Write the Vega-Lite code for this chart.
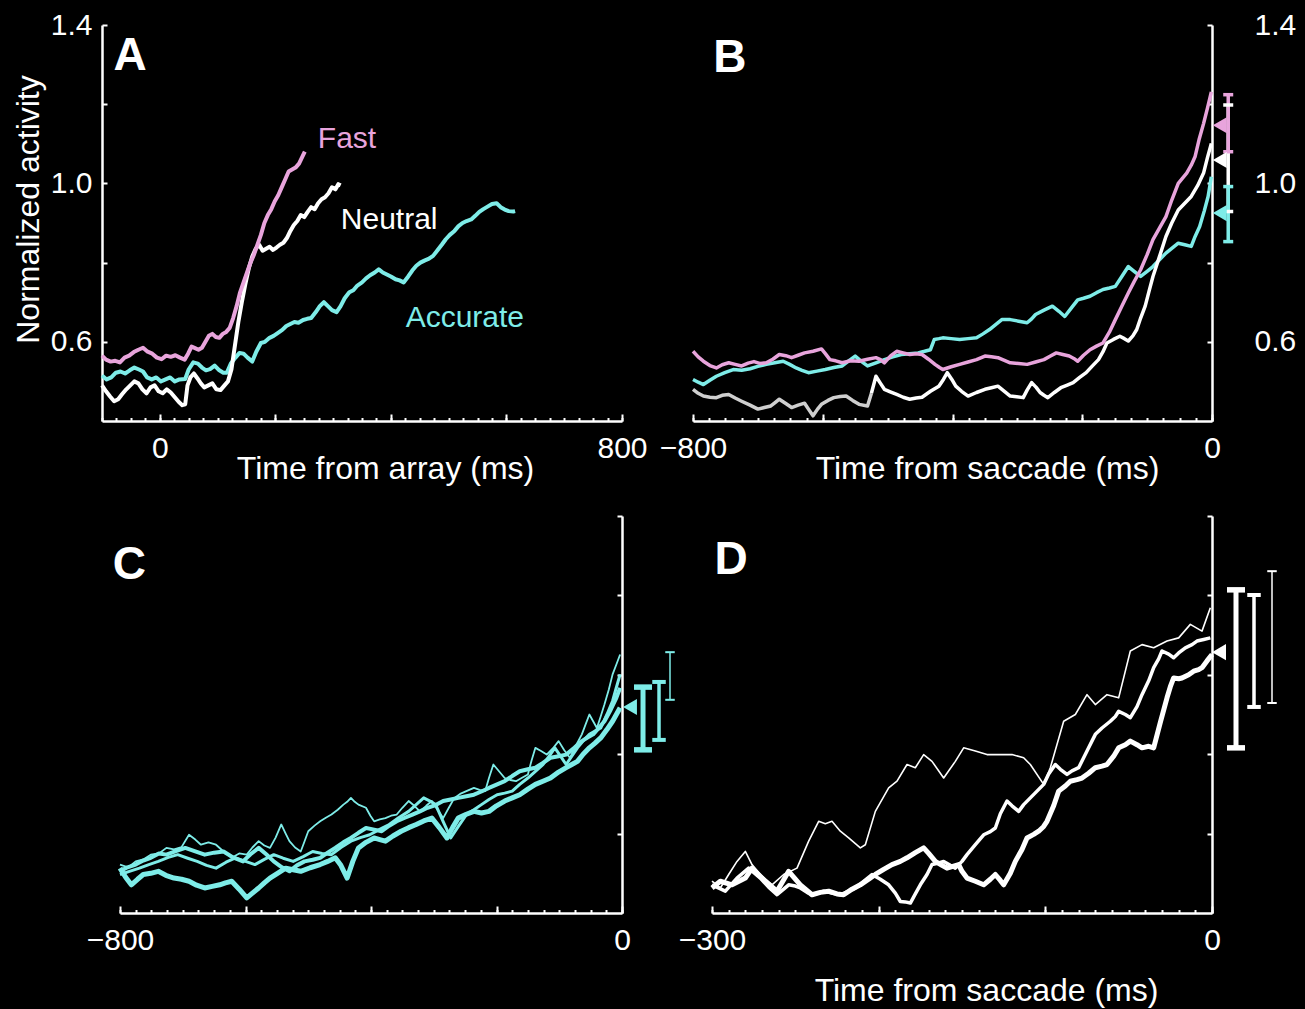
{
"$schema": "https://vega.github.io/schema/vega-lite/v6.json",
"background": "#000000",
"padding": {"left": 12, "top": 10, "right": 12, "bottom": 10},
"config": {
 "font": "Liberation Sans",
 "view": {"stroke": null},
 "tick": {"opacity": 1},
 "axis": {"domainColor": "#ffffff", "domainWidth": 2.5, "tickColor": "#ffffff", "tickWidth": 2, "labelColor": "#ffffff", "titleColor": "#ffffff", "labelFontSize": 30, "titleFontSize": 32, "titleFontWeight": "normal", "labelFont": "Liberation Sans", "titleFont": "Liberation Sans", "grid": false}
},
"datasets": {
 "A_fast": [{"t":-100,"v":0.565},{"t":-93,"v":0.555},{"t":-85,"v":0.55},{"t":-77,"v":0.552},{"t":-69,"v":0.548},{"t":-61,"v":0.56},{"t":-53,"v":0.565},{"t":-45,"v":0.574},{"t":-37,"v":0.58},{"t":-29,"v":0.585},{"t":-21,"v":0.575},{"t":-13,"v":0.57},{"t":-5,"v":0.56},{"t":3,"v":0.556},{"t":11,"v":0.565},{"t":19,"v":0.562},{"t":27,"v":0.566},{"t":35,"v":0.56},{"t":43,"v":0.555},{"t":49,"v":0.57},{"t":55,"v":0.588},{"t":61,"v":0.584},{"t":67,"v":0.58},{"t":73,"v":0.585},{"t":79,"v":0.6},{"t":85,"v":0.615},{"t":91,"v":0.62},{"t":97,"v":0.612},{"t":103,"v":0.61},{"t":109,"v":0.62},{"t":115,"v":0.625},{"t":121,"v":0.635},{"t":127,"v":0.66},{"t":133,"v":0.69},{"t":139,"v":0.725},{"t":145,"v":0.75},{"t":151,"v":0.775},{"t":157,"v":0.8},{"t":163,"v":0.82},{"t":169,"v":0.845},{"t":175,"v":0.87},{"t":181,"v":0.9},{"t":187,"v":0.92},{"t":193,"v":0.935},{"t":199,"v":0.955},{"t":205,"v":0.97},{"t":211,"v":0.99},{"t":217,"v":1.01},{"t":223,"v":1.03},{"t":229,"v":1.035},{"t":235,"v":1.04},{"t":241,"v":1.05},{"t":246,"v":1.065},{"t":251,"v":1.08}],
 "A_neutral": [{"t":-100,"v":0.49},{"t":-93,"v":0.475},{"t":-86,"v":0.462},{"t":-79,"v":0.45},{"t":-72,"v":0.455},{"t":-65,"v":0.468},{"t":-58,"v":0.48},{"t":-51,"v":0.49},{"t":-44,"v":0.5},{"t":-37,"v":0.495},{"t":-30,"v":0.48},{"t":-23,"v":0.47},{"t":-16,"v":0.485},{"t":-9,"v":0.49},{"t":-2,"v":0.475},{"t":5,"v":0.47},{"t":12,"v":0.48},{"t":19,"v":0.472},{"t":26,"v":0.46},{"t":33,"v":0.448},{"t":39,"v":0.44},{"t":44,"v":0.442},{"t":48,"v":0.49},{"t":53,"v":0.51},{"t":59,"v":0.52},{"t":65,"v":0.508},{"t":71,"v":0.495},{"t":77,"v":0.485},{"t":84,"v":0.49},{"t":91,"v":0.495},{"t":98,"v":0.48},{"t":105,"v":0.478},{"t":112,"v":0.49},{"t":118,"v":0.5},{"t":124,"v":0.53},{"t":130,"v":0.59},{"t":136,"v":0.65},{"t":142,"v":0.7},{"t":148,"v":0.745},{"t":154,"v":0.785},{"t":160,"v":0.815},{"t":166,"v":0.835},{"t":172,"v":0.845},{"t":178,"v":0.83},{"t":184,"v":0.835},{"t":190,"v":0.84},{"t":196,"v":0.832},{"t":202,"v":0.838},{"t":208,"v":0.845},{"t":214,"v":0.85},{"t":220,"v":0.862},{"t":226,"v":0.88},{"t":232,"v":0.895},{"t":238,"v":0.905},{"t":244,"v":0.92},{"t":250,"v":0.915},{"t":256,"v":0.928},{"t":262,"v":0.94},{"t":268,"v":0.935},{"t":274,"v":0.95},{"t":280,"v":0.96},{"t":286,"v":0.965},{"t":292,"v":0.975},{"t":298,"v":0.99},{"t":304,"v":0.985},{"t":309,"v":0.998},{"t":313,"v":0.995}],
 "A_accurate": [{"t":-100,"v":0.515},{"t":-92,"v":0.505},{"t":-84,"v":0.51},{"t":-76,"v":0.522},{"t":-68,"v":0.525},{"t":-60,"v":0.52},{"t":-52,"v":0.528},{"t":-44,"v":0.535},{"t":-36,"v":0.53},{"t":-29,"v":0.525},{"t":-22,"v":0.51},{"t":-14,"v":0.505},{"t":-6,"v":0.51},{"t":2,"v":0.5},{"t":10,"v":0.505},{"t":18,"v":0.51},{"t":26,"v":0.5},{"t":34,"v":0.505},{"t":44,"v":0.506},{"t":50,"v":0.53},{"t":58,"v":0.548},{"t":66,"v":0.545},{"t":73,"v":0.535},{"t":80,"v":0.528},{"t":87,"v":0.531},{"t":95,"v":0.54},{"t":103,"v":0.528},{"t":110,"v":0.522},{"t":116,"v":0.522},{"t":123,"v":0.545},{"t":131,"v":0.56},{"t":138,"v":0.572},{"t":145,"v":0.57},{"t":152,"v":0.56},{"t":160,"v":0.55},{"t":167,"v":0.575},{"t":175,"v":0.597},{"t":182,"v":0.6},{"t":190,"v":0.61},{"t":197,"v":0.615},{"t":204,"v":0.622},{"t":212,"v":0.63},{"t":219,"v":0.64},{"t":226,"v":0.645},{"t":233,"v":0.65},{"t":240,"v":0.648},{"t":248,"v":0.655},{"t":255,"v":0.658},{"t":262,"v":0.66},{"t":270,"v":0.675},{"t":277,"v":0.69},{"t":284,"v":0.7},{"t":291,"v":0.69},{"t":298,"v":0.68},{"t":306,"v":0.675},{"t":313,"v":0.69},{"t":320,"v":0.71},{"t":328,"v":0.725},{"t":335,"v":0.73},{"t":342,"v":0.742},{"t":350,"v":0.75},{"t":357,"v":0.76},{"t":364,"v":0.768},{"t":372,"v":0.775},{"t":379,"v":0.783},{"t":386,"v":0.775},{"t":393,"v":0.77},{"t":400,"v":0.765},{"t":408,"v":0.758},{"t":415,"v":0.755},{"t":422,"v":0.75},{"t":430,"v":0.765},{"t":437,"v":0.78},{"t":444,"v":0.792},{"t":451,"v":0.8},{"t":458,"v":0.805},{"t":466,"v":0.81},{"t":473,"v":0.817},{"t":480,"v":0.83},{"t":488,"v":0.845},{"t":495,"v":0.859},{"t":502,"v":0.87},{"t":510,"v":0.88},{"t":517,"v":0.892},{"t":524,"v":0.9},{"t":531,"v":0.905},{"t":539,"v":0.909},{"t":546,"v":0.918},{"t":553,"v":0.928},{"t":560,"v":0.935},{"t":568,"v":0.942},{"t":575,"v":0.948},{"t":583,"v":0.95},{"t":590,"v":0.94},{"t":597,"v":0.934},{"t":604,"v":0.93},{"t":612,"v":0.929},{"t":615,"v":0.93}],
 "labelsA": [{"label":"Fast","cond":"Fast","t":324,"v":1.113},{"label":"Neutral","cond":"Neutral","t":397,"v":0.908},{"label":"Accurate","cond":"Accurate","t":528,"v":0.661}],
 "B_fast": [{"t":-800,"v":0.576},{"t":-792,"v":0.562},{"t":-784,"v":0.551},{"t":-774,"v":0.54},{"t":-764,"v":0.534},{"t":-755,"v":0.542},{"t":-745,"v":0.547},{"t":-735,"v":0.543},{"t":-725,"v":0.539},{"t":-715,"v":0.546},{"t":-706,"v":0.55},{"t":-696,"v":0.545},{"t":-687,"v":0.547},{"t":-677,"v":0.556},{"t":-667,"v":0.568},{"t":-657,"v":0.565},{"t":-648,"v":0.56},{"t":-638,"v":0.566},{"t":-628,"v":0.572},{"t":-615,"v":0.576},{"t":-602,"v":0.582},{"t":-596,"v":0.57},{"t":-589,"v":0.555},{"t":-580,"v":0.552},{"t":-570,"v":0.547},{"t":-557,"v":0.552},{"t":-544,"v":0.551},{"t":-531,"v":0.556},{"t":-518,"v":0.56},{"t":-511,"v":0.555},{"t":-505,"v":0.547},{"t":-495,"v":0.565},{"t":-486,"v":0.576},{"t":-476,"v":0.572},{"t":-466,"v":0.568},{"t":-456,"v":0.57},{"t":-447,"v":0.568},{"t":-437,"v":0.556},{"t":-427,"v":0.543},{"t":-420,"v":0.535},{"t":-415,"v":0.53},{"t":-402,"v":0.537},{"t":-389,"v":0.543},{"t":-376,"v":0.549},{"t":-363,"v":0.555},{"t":-350,"v":0.564},{"t":-340,"v":0.562},{"t":-330,"v":0.56},{"t":-320,"v":0.553},{"t":-311,"v":0.547},{"t":-298,"v":0.545},{"t":-285,"v":0.543},{"t":-272,"v":0.549},{"t":-259,"v":0.555},{"t":-249,"v":0.564},{"t":-240,"v":0.572},{"t":-230,"v":0.568},{"t":-220,"v":0.564},{"t":-213,"v":0.558},{"t":-207,"v":0.551},{"t":-198,"v":0.566},{"t":-188,"v":0.58},{"t":-178,"v":0.589},{"t":-168,"v":0.597},{"t":-158,"v":0.625},{"t":-149,"v":0.656},{"t":-139,"v":0.69},{"t":-129,"v":0.723},{"t":-120,"v":0.752},{"t":-110,"v":0.782},{"t":-100,"v":0.82},{"t":-91,"v":0.858},{"t":-81,"v":0.887},{"t":-71,"v":0.916},{"t":-62,"v":0.958},{"t":-52,"v":1.0},{"t":-46,"v":1.012},{"t":-39,"v":1.026},{"t":-32,"v":1.046},{"t":-26,"v":1.068},{"t":-20,"v":1.11},{"t":-13,"v":1.151},{"t":-7,"v":1.19},{"t":-1,"v":1.231}],
 "B_neutral_early": [{"t":-800,"v":0.48},{"t":-792,"v":0.47},{"t":-784,"v":0.463},{"t":-774,"v":0.46},{"t":-764,"v":0.459},{"t":-755,"v":0.465},{"t":-745,"v":0.467},{"t":-735,"v":0.458},{"t":-725,"v":0.45},{"t":-712,"v":0.44},{"t":-700,"v":0.43},{"t":-690,"v":0.434},{"t":-680,"v":0.438},{"t":-673,"v":0.447},{"t":-667,"v":0.455},{"t":-657,"v":0.444},{"t":-648,"v":0.434},{"t":-638,"v":0.44},{"t":-628,"v":0.445},{"t":-622,"v":0.43},{"t":-615,"v":0.413},{"t":-608,"v":0.43},{"t":-602,"v":0.442},{"t":-592,"v":0.452},{"t":-583,"v":0.459},{"t":-573,"v":0.462},{"t":-564,"v":0.463},{"t":-554,"v":0.452},{"t":-544,"v":0.442},{"t":-531,"v":0.438},{"t":-525,"v":0.47}],
 "B_neutral": [{"t":-525,"v":0.47},{"t":-518,"v":0.513},{"t":-511,"v":0.495},{"t":-505,"v":0.48},{"t":-495,"v":0.473},{"t":-486,"v":0.467},{"t":-476,"v":0.46},{"t":-466,"v":0.455},{"t":-456,"v":0.458},{"t":-447,"v":0.46},{"t":-434,"v":0.475},{"t":-421,"v":0.488},{"t":-414,"v":0.505},{"t":-408,"v":0.522},{"t":-401,"v":0.505},{"t":-395,"v":0.488},{"t":-386,"v":0.475},{"t":-376,"v":0.463},{"t":-363,"v":0.472},{"t":-350,"v":0.48},{"t":-340,"v":0.484},{"t":-330,"v":0.488},{"t":-320,"v":0.475},{"t":-311,"v":0.463},{"t":-301,"v":0.461},{"t":-291,"v":0.459},{"t":-285,"v":0.478},{"t":-278,"v":0.497},{"t":-271,"v":0.485},{"t":-265,"v":0.472},{"t":-259,"v":0.465},{"t":-253,"v":0.459},{"t":-243,"v":0.472},{"t":-233,"v":0.484},{"t":-224,"v":0.49},{"t":-214,"v":0.497},{"t":-204,"v":0.51},{"t":-194,"v":0.522},{"t":-185,"v":0.538},{"t":-175,"v":0.555},{"t":-168,"v":0.575},{"t":-162,"v":0.597},{"t":-152,"v":0.606},{"t":-142,"v":0.614},{"t":-135,"v":0.608},{"t":-129,"v":0.602},{"t":-122,"v":0.615},{"t":-116,"v":0.631},{"t":-110,"v":0.66},{"t":-103,"v":0.69},{"t":-97,"v":0.728},{"t":-91,"v":0.765},{"t":-81,"v":0.815},{"t":-71,"v":0.866},{"t":-62,"v":0.9},{"t":-52,"v":0.933},{"t":-42,"v":0.95},{"t":-32,"v":0.967},{"t":-22,"v":0.995},{"t":-13,"v":1.026},{"t":-7,"v":1.065},{"t":-1,"v":1.101}],
 "B_accurate": [{"t":-800,"v":0.505},{"t":-792,"v":0.498},{"t":-784,"v":0.492},{"t":-774,"v":0.503},{"t":-764,"v":0.513},{"t":-751,"v":0.522},{"t":-738,"v":0.53},{"t":-725,"v":0.528},{"t":-712,"v":0.532},{"t":-700,"v":0.538},{"t":-687,"v":0.543},{"t":-674,"v":0.547},{"t":-661,"v":0.551},{"t":-651,"v":0.543},{"t":-641,"v":0.534},{"t":-632,"v":0.528},{"t":-622,"v":0.522},{"t":-609,"v":0.526},{"t":-596,"v":0.53},{"t":-583,"v":0.535},{"t":-570,"v":0.539},{"t":-560,"v":0.552},{"t":-550,"v":0.564},{"t":-540,"v":0.55},{"t":-531,"v":0.539},{"t":-518,"v":0.547},{"t":-505,"v":0.555},{"t":-492,"v":0.562},{"t":-479,"v":0.568},{"t":-466,"v":0.57},{"t":-453,"v":0.572},{"t":-443,"v":0.576},{"t":-434,"v":0.58},{"t":-428,"v":0.606},{"t":-421,"v":0.608},{"t":-415,"v":0.61},{"t":-402,"v":0.608},{"t":-389,"v":0.606},{"t":-376,"v":0.608},{"t":-363,"v":0.61},{"t":-353,"v":0.62},{"t":-343,"v":0.631},{"t":-334,"v":0.643},{"t":-324,"v":0.656},{"t":-311,"v":0.656},{"t":-298,"v":0.652},{"t":-285,"v":0.648},{"t":-278,"v":0.658},{"t":-272,"v":0.669},{"t":-259,"v":0.68},{"t":-246,"v":0.69},{"t":-236,"v":0.677},{"t":-227,"v":0.664},{"t":-217,"v":0.685},{"t":-207,"v":0.706},{"t":-198,"v":0.71},{"t":-188,"v":0.715},{"t":-178,"v":0.724},{"t":-168,"v":0.732},{"t":-158,"v":0.736},{"t":-149,"v":0.74},{"t":-139,"v":0.765},{"t":-129,"v":0.79},{"t":-120,"v":0.778},{"t":-110,"v":0.765},{"t":-100,"v":0.778},{"t":-91,"v":0.79},{"t":-81,"v":0.807},{"t":-71,"v":0.824},{"t":-62,"v":0.836},{"t":-52,"v":0.849},{"t":-42,"v":0.845},{"t":-32,"v":0.841},{"t":-26,"v":0.866},{"t":-19,"v":0.891},{"t":-12,"v":0.93},{"t":-6,"v":0.967},{"t":-1,"v":1.017}],
 "errB": [{"cond":"Neutral","t":25,"lo":0.929,"hi":1.198},{"cond":"Fast","t":25,"lo":1.08,"hi":1.224},{"cond":"Accurate","t":25,"lo":0.853,"hi":0.992}],
 "triB": [{"cond":"Neutral","t":12,"v":1.059},{"cond":"Fast","t":12,"v":1.147},{"cond":"Accurate","t":12,"v":0.925}],
 "C1": [{"t":-800,"v":0.513},{"t":-791,"v":0.49},{"t":-782,"v":0.471},{"t":-772,"v":0.485},{"t":-763,"v":0.497},{"t":-751,"v":0.5},{"t":-739,"v":0.505},{"t":-727,"v":0.495},{"t":-714,"v":0.488},{"t":-702,"v":0.485},{"t":-690,"v":0.48},{"t":-678,"v":0.47},{"t":-665,"v":0.463},{"t":-653,"v":0.467},{"t":-641,"v":0.471},{"t":-632,"v":0.476},{"t":-622,"v":0.48},{"t":-610,"v":0.46},{"t":-598,"v":0.438},{"t":-589,"v":0.45},{"t":-579,"v":0.463},{"t":-570,"v":0.476},{"t":-561,"v":0.488},{"t":-549,"v":0.5},{"t":-536,"v":0.513},{"t":-524,"v":0.509},{"t":-512,"v":0.505},{"t":-497,"v":0.514},{"t":-481,"v":0.522},{"t":-469,"v":0.53},{"t":-457,"v":0.539},{"t":-448,"v":0.52},{"t":-438,"v":0.488},{"t":-429,"v":0.53},{"t":-420,"v":0.564},{"t":-408,"v":0.578},{"t":-395,"v":0.589},{"t":-386,"v":0.585},{"t":-377,"v":0.581},{"t":-365,"v":0.594},{"t":-352,"v":0.606},{"t":-340,"v":0.615},{"t":-328,"v":0.623},{"t":-316,"v":0.632},{"t":-303,"v":0.639},{"t":-291,"v":0.615},{"t":-279,"v":0.589},{"t":-270,"v":0.615},{"t":-261,"v":0.639},{"t":-249,"v":0.648},{"t":-236,"v":0.656},{"t":-224,"v":0.652},{"t":-212,"v":0.656},{"t":-200,"v":0.67},{"t":-187,"v":0.682},{"t":-175,"v":0.69},{"t":-163,"v":0.698},{"t":-150,"v":0.712},{"t":-138,"v":0.724},{"t":-126,"v":0.732},{"t":-114,"v":0.74},{"t":-101,"v":0.755},{"t":-89,"v":0.766},{"t":-80,"v":0.774},{"t":-71,"v":0.782},{"t":-62,"v":0.8},{"t":-52,"v":0.816},{"t":-43,"v":0.828},{"t":-34,"v":0.841},{"t":-24,"v":0.862},{"t":-15,"v":0.883},{"t":-9,"v":0.9},{"t":-3,"v":0.917}],
 "C2": [{"t":-800,"v":0.505},{"t":-788,"v":0.515},{"t":-775,"v":0.522},{"t":-763,"v":0.532},{"t":-751,"v":0.539},{"t":-738,"v":0.55},{"t":-726,"v":0.547},{"t":-711,"v":0.556},{"t":-696,"v":0.564},{"t":-680,"v":0.555},{"t":-665,"v":0.547},{"t":-650,"v":0.552},{"t":-635,"v":0.555},{"t":-620,"v":0.54},{"t":-604,"v":0.53},{"t":-592,"v":0.548},{"t":-579,"v":0.564},{"t":-567,"v":0.548},{"t":-555,"v":0.53},{"t":-542,"v":0.515},{"t":-530,"v":0.505},{"t":-518,"v":0.52},{"t":-506,"v":0.53},{"t":-493,"v":0.534},{"t":-481,"v":0.539},{"t":-469,"v":0.552},{"t":-457,"v":0.564},{"t":-444,"v":0.578},{"t":-432,"v":0.589},{"t":-420,"v":0.602},{"t":-408,"v":0.614},{"t":-395,"v":0.61},{"t":-383,"v":0.606},{"t":-371,"v":0.62},{"t":-359,"v":0.631},{"t":-346,"v":0.64},{"t":-334,"v":0.648},{"t":-322,"v":0.656},{"t":-310,"v":0.665},{"t":-297,"v":0.672},{"t":-285,"v":0.682},{"t":-273,"v":0.686},{"t":-261,"v":0.69},{"t":-248,"v":0.694},{"t":-236,"v":0.698},{"t":-224,"v":0.706},{"t":-212,"v":0.715},{"t":-199,"v":0.724},{"t":-187,"v":0.732},{"t":-175,"v":0.745},{"t":-163,"v":0.757},{"t":-150,"v":0.762},{"t":-138,"v":0.766},{"t":-126,"v":0.778},{"t":-114,"v":0.791},{"t":-101,"v":0.795},{"t":-89,"v":0.799},{"t":-76,"v":0.816},{"t":-64,"v":0.833},{"t":-55,"v":0.842},{"t":-46,"v":0.85},{"t":-37,"v":0.866},{"t":-28,"v":0.883},{"t":-18,"v":0.912},{"t":-9,"v":0.942},{"t":-3,"v":0.967}],
 "C3": [{"t":-800,"v":0.497},{"t":-785,"v":0.505},{"t":-769,"v":0.513},{"t":-754,"v":0.522},{"t":-739,"v":0.53},{"t":-723,"v":0.54},{"t":-708,"v":0.547},{"t":-692,"v":0.538},{"t":-677,"v":0.53},{"t":-662,"v":0.52},{"t":-647,"v":0.513},{"t":-631,"v":0.528},{"t":-616,"v":0.539},{"t":-600,"v":0.53},{"t":-585,"v":0.522},{"t":-570,"v":0.535},{"t":-555,"v":0.547},{"t":-540,"v":0.538},{"t":-524,"v":0.53},{"t":-508,"v":0.542},{"t":-493,"v":0.555},{"t":-478,"v":0.55},{"t":-463,"v":0.547},{"t":-448,"v":0.565},{"t":-432,"v":0.581},{"t":-417,"v":0.59},{"t":-402,"v":0.597},{"t":-387,"v":0.61},{"t":-371,"v":0.623},{"t":-356,"v":0.64},{"t":-340,"v":0.656},{"t":-328,"v":0.673},{"t":-316,"v":0.69},{"t":-306,"v":0.682},{"t":-297,"v":0.673},{"t":-285,"v":0.63},{"t":-273,"v":0.589},{"t":-260,"v":0.62},{"t":-248,"v":0.648},{"t":-236,"v":0.66},{"t":-224,"v":0.673},{"t":-212,"v":0.686},{"t":-199,"v":0.698},{"t":-187,"v":0.702},{"t":-175,"v":0.707},{"t":-163,"v":0.724},{"t":-150,"v":0.74},{"t":-138,"v":0.757},{"t":-126,"v":0.774},{"t":-116,"v":0.795},{"t":-107,"v":0.816},{"t":-98,"v":0.795},{"t":-89,"v":0.774},{"t":-80,"v":0.795},{"t":-71,"v":0.816},{"t":-62,"v":0.833},{"t":-52,"v":0.85},{"t":-43,"v":0.858},{"t":-34,"v":0.866},{"t":-24,"v":0.9},{"t":-15,"v":0.934},{"t":-9,"v":0.968},{"t":-3,"v":1.001}],
 "C4": [{"t":-800,"v":0.522},{"t":-787,"v":0.515},{"t":-775,"v":0.53},{"t":-763,"v":0.535},{"t":-751,"v":0.547},{"t":-738,"v":0.55},{"t":-726,"v":0.564},{"t":-714,"v":0.56},{"t":-702,"v":0.566},{"t":-690,"v":0.597},{"t":-680,"v":0.585},{"t":-671,"v":0.572},{"t":-659,"v":0.578},{"t":-647,"v":0.572},{"t":-635,"v":0.555},{"t":-622,"v":0.539},{"t":-610,"v":0.55},{"t":-598,"v":0.547},{"t":-589,"v":0.565},{"t":-579,"v":0.581},{"t":-570,"v":0.57},{"t":-561,"v":0.564},{"t":-552,"v":0.59},{"t":-543,"v":0.623},{"t":-536,"v":0.6},{"t":-530,"v":0.581},{"t":-521,"v":0.565},{"t":-512,"v":0.555},{"t":-506,"v":0.58},{"t":-500,"v":0.606},{"t":-490,"v":0.62},{"t":-481,"v":0.631},{"t":-472,"v":0.64},{"t":-463,"v":0.648},{"t":-453,"v":0.66},{"t":-444,"v":0.673},{"t":-438,"v":0.68},{"t":-432,"v":0.69},{"t":-426,"v":0.68},{"t":-420,"v":0.673},{"t":-408,"v":0.665},{"t":-401,"v":0.645},{"t":-395,"v":0.631},{"t":-386,"v":0.636},{"t":-377,"v":0.639},{"t":-368,"v":0.645},{"t":-359,"v":0.648},{"t":-350,"v":0.665},{"t":-340,"v":0.682},{"t":-331,"v":0.67},{"t":-322,"v":0.656},{"t":-312,"v":0.67},{"t":-303,"v":0.682},{"t":-294,"v":0.66},{"t":-285,"v":0.639},{"t":-276,"v":0.665},{"t":-267,"v":0.69},{"t":-258,"v":0.7},{"t":-248,"v":0.707},{"t":-236,"v":0.715},{"t":-227,"v":0.71},{"t":-218,"v":0.707},{"t":-212,"v":0.74},{"t":-205,"v":0.774},{"t":-196,"v":0.757},{"t":-187,"v":0.74},{"t":-178,"v":0.735},{"t":-169,"v":0.732},{"t":-160,"v":0.74},{"t":-150,"v":0.749},{"t":-144,"v":0.785},{"t":-138,"v":0.816},{"t":-129,"v":0.808},{"t":-120,"v":0.799},{"t":-110,"v":0.815},{"t":-101,"v":0.833},{"t":-92,"v":0.81},{"t":-83,"v":0.791},{"t":-74,"v":0.82},{"t":-64,"v":0.85},{"t":-58,"v":0.875},{"t":-52,"v":0.9},{"t":-46,"v":0.883},{"t":-40,"v":0.866},{"t":-34,"v":0.895},{"t":-28,"v":0.925},{"t":-21,"v":0.963},{"t":-15,"v":1.001},{"t":-9,"v":1.026},{"t":-3,"v":1.051}],
 "errC": [{"model":"m1","t":33.5,"lo":0.811,"hi":0.969},{"model":"m2","t":59,"lo":0.836,"hi":0.982},{"model":"m3","t":76.5,"lo":0.937,"hi":1.057}],
 "triC": [{"t":12.7,"v":0.919}],
 "D1": [{"t":-300,"v":0.463},{"t":-295,"v":0.48},{"t":-288,"v":0.471},{"t":-280,"v":0.488},{"t":-276,"v":0.513},{"t":-268,"v":0.48},{"t":-261,"v":0.455},{"t":-254,"v":0.505},{"t":-247,"v":0.471},{"t":-240,"v":0.446},{"t":-235,"v":0.452},{"t":-230,"v":0.455},{"t":-225,"v":0.448},{"t":-221,"v":0.446},{"t":-216,"v":0.46},{"t":-211,"v":0.471},{"t":-206,"v":0.485},{"t":-202,"v":0.497},{"t":-197,"v":0.51},{"t":-192,"v":0.522},{"t":-187,"v":0.53},{"t":-183,"v":0.539},{"t":-178,"v":0.552},{"t":-173,"v":0.564},{"t":-170,"v":0.55},{"t":-166,"v":0.53},{"t":-162,"v":0.52},{"t":-159,"v":0.513},{"t":-155,"v":0.518},{"t":-152,"v":0.522},{"t":-150,"v":0.505},{"t":-147,"v":0.488},{"t":-142,"v":0.48},{"t":-137,"v":0.471},{"t":-133,"v":0.485},{"t":-130,"v":0.497},{"t":-127,"v":0.482},{"t":-125,"v":0.471},{"t":-121,"v":0.5},{"t":-118,"v":0.53},{"t":-114,"v":0.56},{"t":-111,"v":0.589},{"t":-107,"v":0.598},{"t":-104,"v":0.606},{"t":-101,"v":0.618},{"t":-99,"v":0.631},{"t":-95,"v":0.67},{"t":-92,"v":0.707},{"t":-88,"v":0.72},{"t":-85,"v":0.732},{"t":-81,"v":0.736},{"t":-78,"v":0.74},{"t":-74,"v":0.752},{"t":-70,"v":0.766},{"t":-66,"v":0.77},{"t":-63,"v":0.774},{"t":-59,"v":0.795},{"t":-56,"v":0.816},{"t":-52,"v":0.824},{"t":-49,"v":0.833},{"t":-45,"v":0.824},{"t":-42,"v":0.816},{"t":-38,"v":0.82},{"t":-35,"v":0.816},{"t":-31,"v":0.88},{"t":-27,"v":0.942},{"t":-25,"v":0.97},{"t":-23,"v":0.992},{"t":-20,"v":0.99},{"t":-18,"v":0.992},{"t":-14,"v":1.0},{"t":-11,"v":1.009},{"t":-8,"v":1.013},{"t":-6,"v":1.018},{"t":-3,"v":1.035},{"t":0,"v":1.051}],
 "D2": [{"t":-300,"v":0.471},{"t":-292,"v":0.455},{"t":-285,"v":0.488},{"t":-278,"v":0.513},{"t":-271,"v":0.488},{"t":-266,"v":0.465},{"t":-261,"v":0.446},{"t":-257,"v":0.46},{"t":-254,"v":0.471},{"t":-250,"v":0.468},{"t":-247,"v":0.463},{"t":-243,"v":0.452},{"t":-240,"v":0.446},{"t":-236,"v":0.45},{"t":-233,"v":0.455},{"t":-228,"v":0.45},{"t":-223,"v":0.446},{"t":-218,"v":0.455},{"t":-214,"v":0.463},{"t":-209,"v":0.48},{"t":-204,"v":0.497},{"t":-199,"v":0.485},{"t":-194,"v":0.471},{"t":-190,"v":0.45},{"t":-187,"v":0.429},{"t":-184,"v":0.428},{"t":-181,"v":0.425},{"t":-178,"v":0.448},{"t":-175,"v":0.471},{"t":-171,"v":0.497},{"t":-168,"v":0.522},{"t":-164,"v":0.526},{"t":-161,"v":0.53},{"t":-157,"v":0.52},{"t":-154,"v":0.513},{"t":-150,"v":0.53},{"t":-147,"v":0.547},{"t":-142,"v":0.572},{"t":-137,"v":0.597},{"t":-133,"v":0.605},{"t":-130,"v":0.614},{"t":-127,"v":0.65},{"t":-123,"v":0.682},{"t":-120,"v":0.67},{"t":-116,"v":0.656},{"t":-113,"v":0.673},{"t":-109,"v":0.69},{"t":-105,"v":0.707},{"t":-101,"v":0.724},{"t":-98,"v":0.75},{"t":-94,"v":0.774},{"t":-91,"v":0.762},{"t":-87,"v":0.749},{"t":-84,"v":0.758},{"t":-80,"v":0.766},{"t":-75,"v":0.808},{"t":-70,"v":0.85},{"t":-66,"v":0.866},{"t":-61,"v":0.883},{"t":-58,"v":0.895},{"t":-56,"v":0.908},{"t":-52,"v":0.9},{"t":-49,"v":0.892},{"t":-45,"v":0.92},{"t":-42,"v":0.95},{"t":-38,"v":0.985},{"t":-35,"v":1.018},{"t":-32,"v":1.04},{"t":-30,"v":1.06},{"t":-26,"v":1.052},{"t":-23,"v":1.043},{"t":-20,"v":1.055},{"t":-16,"v":1.068},{"t":-12,"v":1.076},{"t":-9,"v":1.085},{"t":-5,"v":1.089},{"t":-1,"v":1.093}],
 "D3": [{"t":-300,"v":0.48},{"t":-295,"v":0.463},{"t":-290,"v":0.497},{"t":-285,"v":0.53},{"t":-280,"v":0.555},{"t":-276,"v":0.522},{"t":-271,"v":0.497},{"t":-264,"v":0.471},{"t":-257,"v":0.497},{"t":-249,"v":0.513},{"t":-242,"v":0.581},{"t":-236,"v":0.631},{"t":-232,"v":0.625},{"t":-228,"v":0.631},{"t":-223,"v":0.606},{"t":-218,"v":0.589},{"t":-211,"v":0.564},{"t":-208,"v":0.572},{"t":-202,"v":0.656},{"t":-194,"v":0.715},{"t":-189,"v":0.732},{"t":-183,"v":0.774},{"t":-178,"v":0.766},{"t":-173,"v":0.799},{"t":-168,"v":0.782},{"t":-161,"v":0.74},{"t":-154,"v":0.782},{"t":-149,"v":0.816},{"t":-142,"v":0.808},{"t":-135,"v":0.799},{"t":-128,"v":0.799},{"t":-120,"v":0.799},{"t":-113,"v":0.791},{"t":-109,"v":0.774},{"t":-101,"v":0.724},{"t":-97,"v":0.766},{"t":-89,"v":0.883},{"t":-82,"v":0.9},{"t":-75,"v":0.95},{"t":-70,"v":0.925},{"t":-63,"v":0.95},{"t":-56,"v":0.942},{"t":-49,"v":1.06},{"t":-42,"v":1.076},{"t":-35,"v":1.068},{"t":-27,"v":1.085},{"t":-20,"v":1.093},{"t":-13,"v":1.127},{"t":-6,"v":1.11},{"t":-1,"v":1.169}],
 "errD": [{"model":"m1","t":14.4,"lo":0.816,"hi":1.214},{"model":"m2","t":25.2,"lo":0.919,"hi":1.201},{"model":"m3","t":36,"lo":0.929,"hi":1.261}],
 "triD": [{"t":4.2,"v":1.057}]
},
"columns": 2,
"spacing": {"column": 71, "row": 95},
"bounds": "flush",
"concat": [
 {
  "width": 520, "height": 396,
  "layer": [
   {"data": {"name": "A_accurate"}, "mark": {"type": "line", "strokeWidth": 4, "color": "#7eece8", "strokeJoin": "round"},
    "encoding": {
     "x": {"field": "t", "type": "quantitative", "scale": {"domain": [-100, 800], "nice": false, "zero": false}, "axis": {"orient": "bottom", "values": [0, 800], "ticks": false, "domain": true, "labelPadding": 12, "labelFlush": false, "title": "Time from array (ms)", "titleX": 283, "titleY": 47, "titleBaseline": "middle"}},
     "y": {"field": "v", "type": "quantitative", "scale": {"domain": [0.4, 1.4], "nice": false, "zero": false}, "axis": {"orient": "left", "values": [0.6, 1.0, 1.4], "format": ".1f", "ticks": false, "domain": true, "labelPadding": 10, "title": "Normalized activity", "titleX": -74, "titleY": 184, "titleBaseline": "middle"}}
    }},
   {"data": {"name": "A_neutral"}, "mark": {"type": "line", "strokeWidth": 4, "color": "#ffffff", "strokeJoin": "round"},
    "encoding": {
     "x": {"field": "t", "type": "quantitative", "scale": {"domain": [-100, 800], "nice": false, "zero": false}, "axis": {"orient": "bottom", "values": [-100,-75,-50,-25,0,25,50,75,100,125,150,175,200,225,250,275,300,325,350,375,400,425,450,475,500,525,550,575,600,625,650,675,700,725,750,775,800], "offset": -3.5, "tickSize": 3.5, "domain": false, "labels": false, "title": null}},
     "y": {"field": "v", "type": "quantitative", "scale": {"domain": [0.4, 1.4], "nice": false, "zero": false}, "axis": {"orient": "left", "values": [0.6, 0.8, 1.0, 1.2, 1.4], "offset": -5, "tickSize": 5, "domain": false, "labels": false, "title": null}}
    }},
   {"data": {"name": "A_fast"}, "mark": {"type": "line", "strokeWidth": 4, "color": "#e8a4dc", "strokeJoin": "round"},
    "encoding": {
     "x": {"field": "t", "type": "quantitative", "scale": {"domain": [-100, 800], "nice": false, "zero": false}, "axis": {"orient": "bottom", "values": [0, 200, 400, 600, 800], "offset": -7, "tickSize": 7, "domain": false, "labels": false, "title": null}},
     "y": {"field": "v", "type": "quantitative", "scale": {"domain": [0.4, 1.4], "nice": false, "zero": false}, "axis": null}
    }},
   {"data": {"name": "labelsA"}, "mark": {"type": "text", "fontSize": 30, "align": "center", "baseline": "middle"},
    "encoding": {
     "x": {"field": "t", "type": "quantitative", "scale": {"domain": [-100, 800], "nice": false, "zero": false}, "axis": null},
     "y": {"field": "v", "type": "quantitative", "scale": {"domain": [0.4, 1.4], "nice": false, "zero": false}, "axis": null},
     "text": {"field": "label"},
     "color": {"field": "cond", "type": "nominal", "scale": {"domain": ["Fast", "Neutral", "Accurate"], "range": ["#e8a4dc", "#ffffff", "#7eece8"]}, "legend": null}
    }},
   {"data": {"values": [{}]}, "mark": {"type": "text", "text": "A", "fontSize": 46, "fontWeight": "bold", "color": "#ffffff", "align": "center", "baseline": "middle"},
    "encoding": {
     "x": {"datum": -51.5, "type": "quantitative", "scale": {"domain": [-100, 800], "nice": false, "zero": false}, "axis": null},
     "y": {"datum": 1.322, "type": "quantitative", "scale": {"domain": [0.4, 1.4], "nice": false, "zero": false}, "axis": null}
    }}
  ],
  "resolve": {"axis": {"x": "independent", "y": "independent"}}
 },
 {
  "width": 519, "height": 396,
  "layer": [
   {"data": {"name": "B_accurate"}, "mark": {"type": "line", "strokeWidth": 3.5, "color": "#7eece8", "strokeJoin": "round"},
    "encoding": {
     "x": {"field": "t", "type": "quantitative", "scale": {"domain": [-800, 0], "nice": false, "zero": false}, "axis": {"orient": "bottom", "values": [-800, 0], "ticks": false, "domain": true, "labelPadding": 12, "labelFlush": false, "title": "Time from saccade (ms)", "titleX": 294, "titleY": 47, "titleBaseline": "middle"}},
     "y": {"field": "v", "type": "quantitative", "scale": {"domain": [0.4, 1.4], "nice": false, "zero": false}, "axis": {"orient": "right", "values": [0.6, 1.0, 1.4], "format": ".1f", "ticks": false, "domain": true, "labelPadding": 42, "title": null}}
    }},
   {"data": {"name": "B_neutral_early"}, "mark": {"type": "line", "strokeWidth": 3.5, "color": "#cfcfcf", "strokeJoin": "round"},
    "encoding": {
     "x": {"field": "t", "type": "quantitative", "scale": {"domain": [-800, 0], "nice": false, "zero": false}, "axis": {"orient": "bottom", "values": [-800,-775,-750,-725,-700,-675,-650,-625,-600,-575,-550,-525,-500,-475,-450,-425,-400,-375,-350,-325,-300,-275,-250,-225,-200,-175,-150,-125,-100,-75,-50,-25,0], "offset": -3.5, "tickSize": 3.5, "domain": false, "labels": false, "title": null}},
     "y": {"field": "v", "type": "quantitative", "scale": {"domain": [0.4, 1.4], "nice": false, "zero": false}, "axis": {"orient": "right", "values": [0.6, 0.8, 1.0, 1.2, 1.4], "offset": -5, "tickSize": 5, "domain": false, "labels": false, "title": null}}
    }},
   {"data": {"name": "B_neutral"}, "mark": {"type": "line", "strokeWidth": 3.5, "color": "#ffffff", "strokeJoin": "round"},
    "encoding": {
     "x": {"field": "t", "type": "quantitative", "scale": {"domain": [-800, 0], "nice": false, "zero": false}, "axis": null},
     "y": {"field": "v", "type": "quantitative", "scale": {"domain": [0.4, 1.4], "nice": false, "zero": false}, "axis": null}
    }},
   {"data": {"name": "B_fast"}, "mark": {"type": "line", "strokeWidth": 3.5, "color": "#e8a4dc", "strokeJoin": "round"},
    "encoding": {
     "x": {"field": "t", "type": "quantitative", "scale": {"domain": [-800, 0], "nice": false, "zero": false}, "axis": {"orient": "bottom", "values": [-800, -600, -400, -200, 0], "offset": -7, "tickSize": 7, "domain": false, "labels": false, "title": null}},
     "y": {"field": "v", "type": "quantitative", "scale": {"domain": [0.4, 1.4], "nice": false, "zero": false}, "axis": null}
    }},
   {"data": {"name": "errB"}, "mark": {"type": "rule", "strokeWidth": 3.5},
    "encoding": {
     "x": {"field": "t", "type": "quantitative", "scale": {"domain": [-800, 0], "nice": false, "zero": false}, "axis": null},
     "y": {"field": "lo", "type": "quantitative", "scale": {"domain": [0.4, 1.4], "nice": false, "zero": false}, "axis": null},
     "y2": {"field": "hi"},
     "color": {"field": "cond", "type": "nominal", "scale": {"domain": ["Fast", "Neutral", "Accurate"], "range": ["#e8a4dc", "#ffffff", "#7eece8"]}, "legend": null}
    }},
   {"data": {"name": "errB"}, "mark": {"type": "tick", "orient": "horizontal", "size": 10, "thickness": 3.5, "opacity": 1},
    "encoding": {
     "x": {"field": "t", "type": "quantitative", "scale": {"domain": [-800, 0], "nice": false, "zero": false}, "axis": null},
     "y": {"field": "lo", "type": "quantitative", "scale": {"domain": [0.4, 1.4], "nice": false, "zero": false}, "axis": null},
     "color": {"field": "cond", "type": "nominal", "scale": {"domain": ["Fast", "Neutral", "Accurate"], "range": ["#e8a4dc", "#ffffff", "#7eece8"]}, "legend": null}
    }},
   {"data": {"name": "errB"}, "mark": {"type": "tick", "orient": "horizontal", "size": 10, "thickness": 3.5, "opacity": 1},
    "encoding": {
     "x": {"field": "t", "type": "quantitative", "scale": {"domain": [-800, 0], "nice": false, "zero": false}, "axis": null},
     "y": {"field": "hi", "type": "quantitative", "scale": {"domain": [0.4, 1.4], "nice": false, "zero": false}, "axis": null},
     "color": {"field": "cond", "type": "nominal", "scale": {"domain": ["Fast", "Neutral", "Accurate"], "range": ["#e8a4dc", "#ffffff", "#7eece8"]}, "legend": null}
    }},
   {"data": {"name": "triB"}, "mark": {"type": "point", "shape": "triangle-left", "filled": true, "size": 260, "opacity": 1},
    "encoding": {
     "x": {"field": "t", "type": "quantitative", "scale": {"domain": [-800, 0], "nice": false, "zero": false}, "axis": null},
     "y": {"field": "v", "type": "quantitative", "scale": {"domain": [0.4, 1.4], "nice": false, "zero": false}, "axis": null},
     "color": {"field": "cond", "type": "nominal", "scale": {"domain": ["Fast", "Neutral", "Accurate"], "range": ["#e8a4dc", "#ffffff", "#7eece8"]}, "legend": null}
    }},
   {"data": {"values": [{}]}, "mark": {"type": "text", "text": "B", "fontSize": 46, "fontWeight": "bold", "color": "#ffffff", "align": "center", "baseline": "middle"},
    "encoding": {
     "x": {"datum": -743, "type": "quantitative", "scale": {"domain": [-800, 0], "nice": false, "zero": false}, "axis": null},
     "y": {"datum": 1.317, "type": "quantitative", "scale": {"domain": [0.4, 1.4], "nice": false, "zero": false}, "axis": null}
    }}
  ],
  "resolve": {"axis": {"x": "independent", "y": "independent"}}
 },
 {
  "width": 520, "height": 397,
  "layer": [
   {"data": {"name": "C1"}, "mark": {"type": "line", "strokeWidth": 5, "color": "#7eece8", "strokeJoin": "round"},
    "encoding": {
     "x": {"field": "t", "type": "quantitative", "scale": {"domain": [-800, 0], "nice": false, "zero": false, "range": [18, 520]}, "axis": {"orient": "bottom", "values": [-800, 0], "ticks": false, "domain": true, "labelPadding": 12, "labelFlush": false, "title": null}},
     "y": {"field": "v", "type": "quantitative", "scale": {"domain": [0.4, 1.4], "nice": false, "zero": false}, "axis": {"orient": "right", "ticks": false, "domain": true, "labels": false, "title": null}}
    }},
   {"data": {"name": "C2"}, "mark": {"type": "line", "strokeWidth": 4, "color": "#7eece8", "strokeJoin": "round"},
    "encoding": {
     "x": {"field": "t", "type": "quantitative", "scale": {"domain": [-800, 0], "nice": false, "zero": false, "range": [18, 520]}, "axis": {"orient": "bottom", "values": [-800,-775,-750,-725,-700,-675,-650,-625,-600,-575,-550,-525,-500,-475,-450,-425,-400,-375,-350,-325,-300,-275,-250,-225,-200,-175,-150,-125,-100,-75,-50,-25,0], "offset": -3.5, "tickSize": 3.5, "domain": false, "labels": false, "title": null}},
     "y": {"field": "v", "type": "quantitative", "scale": {"domain": [0.4, 1.4], "nice": false, "zero": false}, "axis": {"orient": "right", "values": [0.6, 0.8, 1.0, 1.2, 1.4], "offset": -5, "tickSize": 5, "domain": false, "labels": false, "title": null}}
    }},
   {"data": {"name": "C3"}, "mark": {"type": "line", "strokeWidth": 3, "color": "#7eece8", "strokeJoin": "round"},
    "encoding": {
     "x": {"field": "t", "type": "quantitative", "scale": {"domain": [-800, 0], "nice": false, "zero": false, "range": [18, 520]}, "axis": {"orient": "bottom", "values": [-800, -600, -400, -200, 0], "offset": -7, "tickSize": 7, "domain": false, "labels": false, "title": null}},
     "y": {"field": "v", "type": "quantitative", "scale": {"domain": [0.4, 1.4], "nice": false, "zero": false}, "axis": null}
    }},
   {"data": {"name": "C4"}, "mark": {"type": "line", "strokeWidth": 1.8, "color": "#7eece8", "strokeJoin": "round"},
    "encoding": {
     "x": {"field": "t", "type": "quantitative", "scale": {"domain": [-800, 0], "nice": false, "zero": false, "range": [18, 520]}, "axis": null},
     "y": {"field": "v", "type": "quantitative", "scale": {"domain": [0.4, 1.4], "nice": false, "zero": false}, "axis": null}
    }},
   {"data": {"name": "errC"}, "mark": {"type": "rule", "color": "#7eece8"},
    "encoding": {
     "x": {"field": "t", "type": "quantitative", "scale": {"domain": [-800, 0], "nice": false, "zero": false, "range": [18, 520]}, "axis": null},
     "y": {"field": "lo", "type": "quantitative", "scale": {"domain": [0.4, 1.4], "nice": false, "zero": false}, "axis": null},
     "y2": {"field": "hi"},
     "strokeWidth": {"field": "model", "type": "nominal", "scale": {"type": "ordinal", "domain": ["m1", "m2", "m3"], "range": [5, 3.5, 1.5]}, "legend": null}
    }},
   {"data": {"name": "errC"}, "mark": {"type": "tick", "orient": "horizontal", "thickness": 0.5, "color": "#7eece8", "stroke": "#7eece8", "opacity": 1},
    "encoding": {
     "x": {"field": "t", "type": "quantitative", "scale": {"domain": [-800, 0], "nice": false, "zero": false, "range": [18, 520]}, "axis": null},
     "y": {"field": "lo", "type": "quantitative", "scale": {"domain": [0.4, 1.4], "nice": false, "zero": false}, "axis": null},
     "size": {"field": "model", "type": "nominal", "scale": {"type": "ordinal", "domain": ["m1", "m2", "m3"], "range": [13, 10, 8]}, "legend": null},
     "strokeWidth": {"field": "model", "type": "nominal", "scale": {"type": "ordinal", "domain": ["m1", "m2", "m3"], "range": [5, 3.5, 1.5]}, "legend": null}
    }},
   {"data": {"name": "errC"}, "mark": {"type": "tick", "orient": "horizontal", "thickness": 0.5, "color": "#7eece8", "stroke": "#7eece8", "opacity": 1},
    "encoding": {
     "x": {"field": "t", "type": "quantitative", "scale": {"domain": [-800, 0], "nice": false, "zero": false, "range": [18, 520]}, "axis": null},
     "y": {"field": "hi", "type": "quantitative", "scale": {"domain": [0.4, 1.4], "nice": false, "zero": false}, "axis": null},
     "size": {"field": "model", "type": "nominal", "scale": {"type": "ordinal", "domain": ["m1", "m2", "m3"], "range": [13, 10, 8]}, "legend": null},
     "strokeWidth": {"field": "model", "type": "nominal", "scale": {"type": "ordinal", "domain": ["m1", "m2", "m3"], "range": [5, 3.5, 1.5]}, "legend": null}
    }},
   {"data": {"name": "triC"}, "mark": {"type": "point", "shape": "triangle-left", "filled": true, "size": 260, "opacity": 1, "color": "#7eece8"},
    "encoding": {
     "x": {"field": "t", "type": "quantitative", "scale": {"domain": [-800, 0], "nice": false, "zero": false, "range": [18, 520]}, "axis": null},
     "y": {"field": "v", "type": "quantitative", "scale": {"domain": [0.4, 1.4], "nice": false, "zero": false}, "axis": null}
    }},
   {"data": {"values": [{}]}, "mark": {"type": "text", "text": "C", "fontSize": 46, "fontWeight": "bold", "color": "#ffffff", "align": "center", "baseline": "middle"},
    "encoding": {
     "x": {"datum": -785, "type": "quantitative", "scale": {"domain": [-800, 0], "nice": false, "zero": false, "range": [18, 520]}, "axis": null},
     "y": {"datum": 1.277, "type": "quantitative", "scale": {"domain": [0.4, 1.4], "nice": false, "zero": false}, "axis": null}
    }}
  ],
  "resolve": {"axis": {"x": "independent", "y": "independent"}}
 },
 {
  "width": 519, "height": 397,
  "layer": [
   {"data": {"name": "D1"}, "mark": {"type": "line", "strokeWidth": 5, "color": "#ffffff", "strokeJoin": "round"},
    "encoding": {
     "x": {"field": "t", "type": "quantitative", "scale": {"domain": [-300, 0], "nice": false, "zero": false, "range": [19, 519]}, "axis": {"orient": "bottom", "values": [-300, 0], "ticks": false, "domain": true, "labelPadding": 12, "labelFlush": false, "title": "Time from saccade (ms)", "titleX": 293, "titleY": 77, "titleBaseline": "middle"}},
     "y": {"field": "v", "type": "quantitative", "scale": {"domain": [0.4, 1.4], "nice": false, "zero": false}, "axis": {"orient": "right", "ticks": false, "domain": true, "labels": false, "title": null}}
    }},
   {"data": {"name": "D2"}, "mark": {"type": "line", "strokeWidth": 3.5, "color": "#ffffff", "strokeJoin": "round"},
    "encoding": {
     "x": {"field": "t", "type": "quantitative", "scale": {"domain": [-300, 0], "nice": false, "zero": false, "range": [19, 519]}, "axis": {"orient": "bottom", "values": [-300,-290,-280,-270,-260,-250,-240,-230,-220,-210,-200,-190,-180,-170,-160,-150,-140,-130,-120,-110,-100,-90,-80,-70,-60,-50,-40,-30,-20,-10,0], "offset": -3.5, "tickSize": 3.5, "domain": false, "labels": false, "title": null}},
     "y": {"field": "v", "type": "quantitative", "scale": {"domain": [0.4, 1.4], "nice": false, "zero": false}, "axis": {"orient": "right", "values": [0.6, 0.8, 1.0, 1.2, 1.4], "offset": -5, "tickSize": 5, "domain": false, "labels": false, "title": null}}
    }},
   {"data": {"name": "D3"}, "mark": {"type": "line", "strokeWidth": 1.6, "color": "#ffffff", "strokeJoin": "round"},
    "encoding": {
     "x": {"field": "t", "type": "quantitative", "scale": {"domain": [-300, 0], "nice": false, "zero": false, "range": [19, 519]}, "axis": {"orient": "bottom", "values": [-300, -200, -100, 0], "offset": -7, "tickSize": 7, "domain": false, "labels": false, "title": null}},
     "y": {"field": "v", "type": "quantitative", "scale": {"domain": [0.4, 1.4], "nice": false, "zero": false}, "axis": null}
    }},
   {"data": {"name": "errD"}, "mark": {"type": "rule", "color": "#ffffff"},
    "encoding": {
     "x": {"field": "t", "type": "quantitative", "scale": {"domain": [-300, 0], "nice": false, "zero": false, "range": [19, 519]}, "axis": null},
     "y": {"field": "lo", "type": "quantitative", "scale": {"domain": [0.4, 1.4], "nice": false, "zero": false}, "axis": null},
     "y2": {"field": "hi"},
     "strokeWidth": {"field": "model", "type": "nominal", "scale": {"type": "ordinal", "domain": ["m1", "m2", "m3"], "range": [5, 3.5, 1.5]}, "legend": null}
    }},
   {"data": {"name": "errD"}, "mark": {"type": "tick", "orient": "horizontal", "thickness": 0.5, "color": "#ffffff", "stroke": "#ffffff", "opacity": 1},
    "encoding": {
     "x": {"field": "t", "type": "quantitative", "scale": {"domain": [-300, 0], "nice": false, "zero": false, "range": [19, 519]}, "axis": null},
     "y": {"field": "lo", "type": "quantitative", "scale": {"domain": [0.4, 1.4], "nice": false, "zero": false}, "axis": null},
     "size": {"field": "model", "type": "nominal", "scale": {"type": "ordinal", "domain": ["m1", "m2", "m3"], "range": [14, 10, 8]}, "legend": null},
     "strokeWidth": {"field": "model", "type": "nominal", "scale": {"type": "ordinal", "domain": ["m1", "m2", "m3"], "range": [5, 3.5, 1.5]}, "legend": null}
    }},
   {"data": {"name": "errD"}, "mark": {"type": "tick", "orient": "horizontal", "thickness": 0.5, "color": "#ffffff", "stroke": "#ffffff", "opacity": 1},
    "encoding": {
     "x": {"field": "t", "type": "quantitative", "scale": {"domain": [-300, 0], "nice": false, "zero": false, "range": [19, 519]}, "axis": null},
     "y": {"field": "hi", "type": "quantitative", "scale": {"domain": [0.4, 1.4], "nice": false, "zero": false}, "axis": null},
     "size": {"field": "model", "type": "nominal", "scale": {"type": "ordinal", "domain": ["m1", "m2", "m3"], "range": [14, 10, 8]}, "legend": null},
     "strokeWidth": {"field": "model", "type": "nominal", "scale": {"type": "ordinal", "domain": ["m1", "m2", "m3"], "range": [5, 3.5, 1.5]}, "legend": null}
    }},
   {"data": {"name": "triD"}, "mark": {"type": "point", "shape": "triangle-left", "filled": true, "size": 260, "opacity": 1, "color": "#ffffff"},
    "encoding": {
     "x": {"field": "t", "type": "quantitative", "scale": {"domain": [-300, 0], "nice": false, "zero": false, "range": [19, 519]}, "axis": null},
     "y": {"field": "v", "type": "quantitative", "scale": {"domain": [0.4, 1.4], "nice": false, "zero": false}, "axis": null}
    }},
   {"data": {"values": [{}]}, "mark": {"type": "text", "text": "D", "fontSize": 46, "fontWeight": "bold", "color": "#ffffff", "align": "center", "baseline": "middle"},
    "encoding": {
     "x": {"datum": -288.6, "type": "quantitative", "scale": {"domain": [-300, 0], "nice": false, "zero": false, "range": [19, 519]}, "axis": null},
     "y": {"datum": 1.29, "type": "quantitative", "scale": {"domain": [0.4, 1.4], "nice": false, "zero": false}, "axis": null}
    }}
  ],
  "resolve": {"axis": {"x": "independent", "y": "independent"}}
 }
]
}
